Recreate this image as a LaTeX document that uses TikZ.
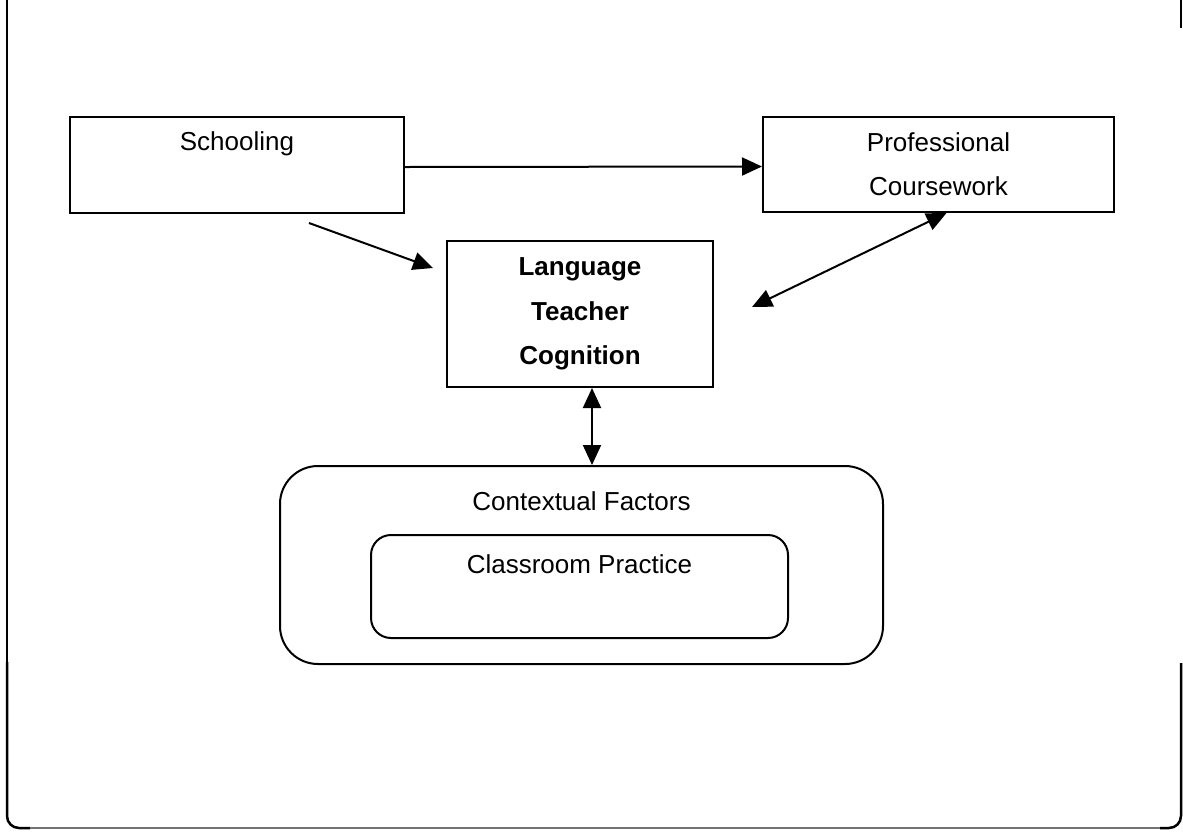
\documentclass[tikz,border=0pt]{standalone}
\usepackage{fontspec}
\setmainfont{Liberation Sans}
\usetikzlibrary{arrows.meta,positioning}

\begin{document}
\begin{tikzpicture}[x=1pt,y=-1pt,line width=2pt,>={Triangle[length=20pt,width=18pt]},
  box/.style={draw,rectangle,fill=white,inner sep=0pt,align=center,font=\fontsize{26}{44}\selectfont},
  round box/.style={box,rounded corners=#1},
  txt/.style={inner sep=0pt,font=\fontsize{26}{44}\selectfont}]

  \useasboundingbox (0,0) rectangle (1183,831);

  % frame
  \draw[line width=2.5pt] (7,0) -- (7,27);
  \draw[line width=1.2pt] (7,27) -- (7,662);
  \draw[line width=2.5pt,rounded corners=12pt] (7,662) -- (7,828) -- (30,828);
  \draw[black!55,line width=1.5pt] (30,828) -- (1160,828);
  \draw[line width=2.5pt,rounded corners=12pt] (1160,828) -- (1181,828) -- (1181,663);
  \draw[line width=2.5pt] (1181,0) -- (1181,28);

  % boxes
  \node[box,minimum width=334pt,minimum height=96pt] (school) at (237,165) {};
  \node[txt,below=15pt of school.north] (school text) {Schooling};
  \node[box,minimum width=351pt,minimum height=95pt] (prof) at (938.5,164.5) {Professional\\Coursework};
  \node[box,minimum width=266pt,minimum height=146pt,font=\fontsize{26}{44.5}\selectfont\bfseries] (ltc) at (580,314) {Language\\Teacher\\Cognition};
  \node[round box=38pt,minimum width=603pt,minimum height=198pt] (ctx) at (581.5,565) {};
  \node[txt,below=26pt of ctx.north] (ctx text) {Contextual Factors};
  \node[round box=20pt,minimum width=417pt,minimum height=103pt] (practice) at (579.5,586.5) {};
  \node[txt,below=20pt of practice.north] (practice text) {Classroom Practice};

  % free ends
  \coordinate (school out) at (309,223);
  \coordinate (ltc in) at (433,268);
  \coordinate (ltc right) at (752,307);

  % arrows
  \draw[->] ([yshift=-2pt]school.east) -- ([yshift=-2pt]prof.west);
  \draw[->] (school out) -- (ltc in);
  \draw[<->] (ltc right) -- ([xshift=8pt]prof.south);
  \draw[<->] ([xshift=12pt]ltc.south) -- ([xshift=12pt]ltc.south |- ctx.north);
\end{tikzpicture}
\end{document}
